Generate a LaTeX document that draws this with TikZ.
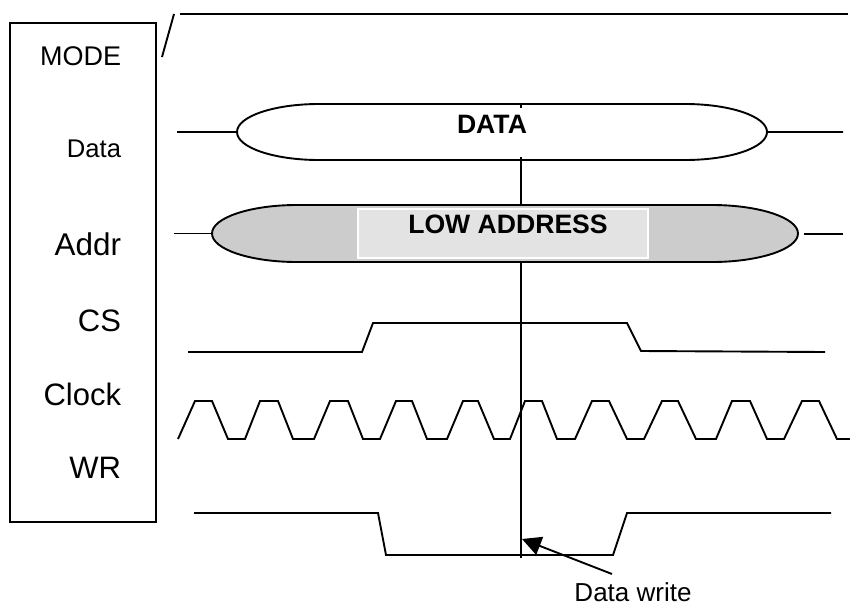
\documentclass[tikz,border=0pt]{standalone}
\usepackage{fontspec}
\setmainfont{Liberation Sans}
\usepackage{tikz}
\usetikzlibrary{arrows.meta}
\definecolor{busgray}{gray}{0.8}
\definecolor{boxgray}{gray}{0.89}
\begin{document}
\begin{tikzpicture}[x=0.5pt,y=-0.5pt,line width=0.95pt,
  sig/.style={anchor=base east,inner sep=0pt},
  buslabel/.style={anchor=base,inner sep=0pt,font=\fontsize{13.3}{15}\selectfont\bfseries}]
                      \useasboundingbox (0,0) rectangle (850,605);
                      \draw[line width=1.15pt] (10,23) rectangle (156,522);
                      \node[sig,font=\fontsize{13.5}{16}\selectfont] (mode) at (122,65) {MODE};
                      \node[sig,font=\fontsize{12.8}{15}\selectfont] (data) at (122,157) {Data};
                      \node[sig,font=\fontsize{15.7}{18}\selectfont] (addr) at (122,255) {Addr};
                      \node[sig,font=\fontsize{15.5}{18}\selectfont] (cs) at (122,331) {CS};
                      \node[sig,font=\fontsize{15.5}{18}\selectfont] (clock) at (122,405) {Clock};
                      \node[sig,font=\fontsize{15.5}{18}\selectfont] (wr) at (122,478) {WR};
                      \draw (162,57) -- (174,14);
                      \draw (180,14) -- (848,14);
                      \draw (177,132) -- (237,132) .. controls (237,116.5) and (273.7,104) .. (319,104) -- (685,104) .. controls (730.3,104) and (767,116.5) .. (767,132) -- (843,132);
                      \draw (767,132) .. controls (767,147.5) and (730.3,160) .. (685,160) -- (319,160) .. controls (273.7,160) and (237,147.5) .. (237,132);
                      \draw (521,105) -- (521,558);
                      \fill[white] (462,108) rectangle (560,157);
                      \node[buslabel] (datalbl) at (492,133) {DATA};
                      \draw[fill=busgray] (212,233.5) .. controls (212,217.8) and (250,205) .. (297,205) -- (712,205) .. controls (759,205) and (798,217.8) .. (798,233.5) .. controls (798,249.2) and (759,262) .. (712,262) -- (297,262) .. controls (250,262) and (212,249.2) .. (212,233.5) -- cycle;
                      \draw (174,233.5) -- (212,233.5);
                      \draw (804,234) -- (843,234);
                      \draw[white,fill=boxgray,line width=1pt] (358,209) rectangle (648,258);
                      \node[buslabel] (addrlbl) at (508,233) {LOW ADDRESS};
                      \draw (188,352) -- (362,352) -- (373,323) -- (627,323) -- (641,351) -- (825,352);
                      \draw (178,439) -- (195,401) -- (212,401) -- (228,439) -- (245,439) -- (260,401) -- (278,401) -- (293,439) -- (314,439) -- (330,401) -- (348,401) -- (363,439) -- (380,439) -- (396,401) -- (412,401) -- (427,439) -- (447,439) -- (463,401) -- (478,401) -- (494,439) -- (510,439) -- (525,401) -- (542,401) -- (557,439) -- (575,439) -- (592,401) -- (609,401) -- (627,439) -- (644,439) -- (662,401) -- (678,401) -- (696,439) -- (716,439) -- (732,401) -- (750,401) -- (767,439) -- (784,439) -- (802,401) -- (819,401) -- (837,439) -- (850,439);
                      \draw (194,513) -- (378,513) -- (386,555) -- (613,555) -- (627,513) -- (831,513);
                      \node[anchor=base,inner sep=0pt,font=\fontsize{13}{15}\selectfont] (dw) at (633,601) {Data write};
                      \coordinate (dwtail) at (612,574);
                      \coordinate (dwtip) at (522,539);
                      \draw[-{Triangle[length=9.5pt,width=9.5pt]}] (dwtail) -- (dwtip);
                  \end{tikzpicture}
\end{document}
